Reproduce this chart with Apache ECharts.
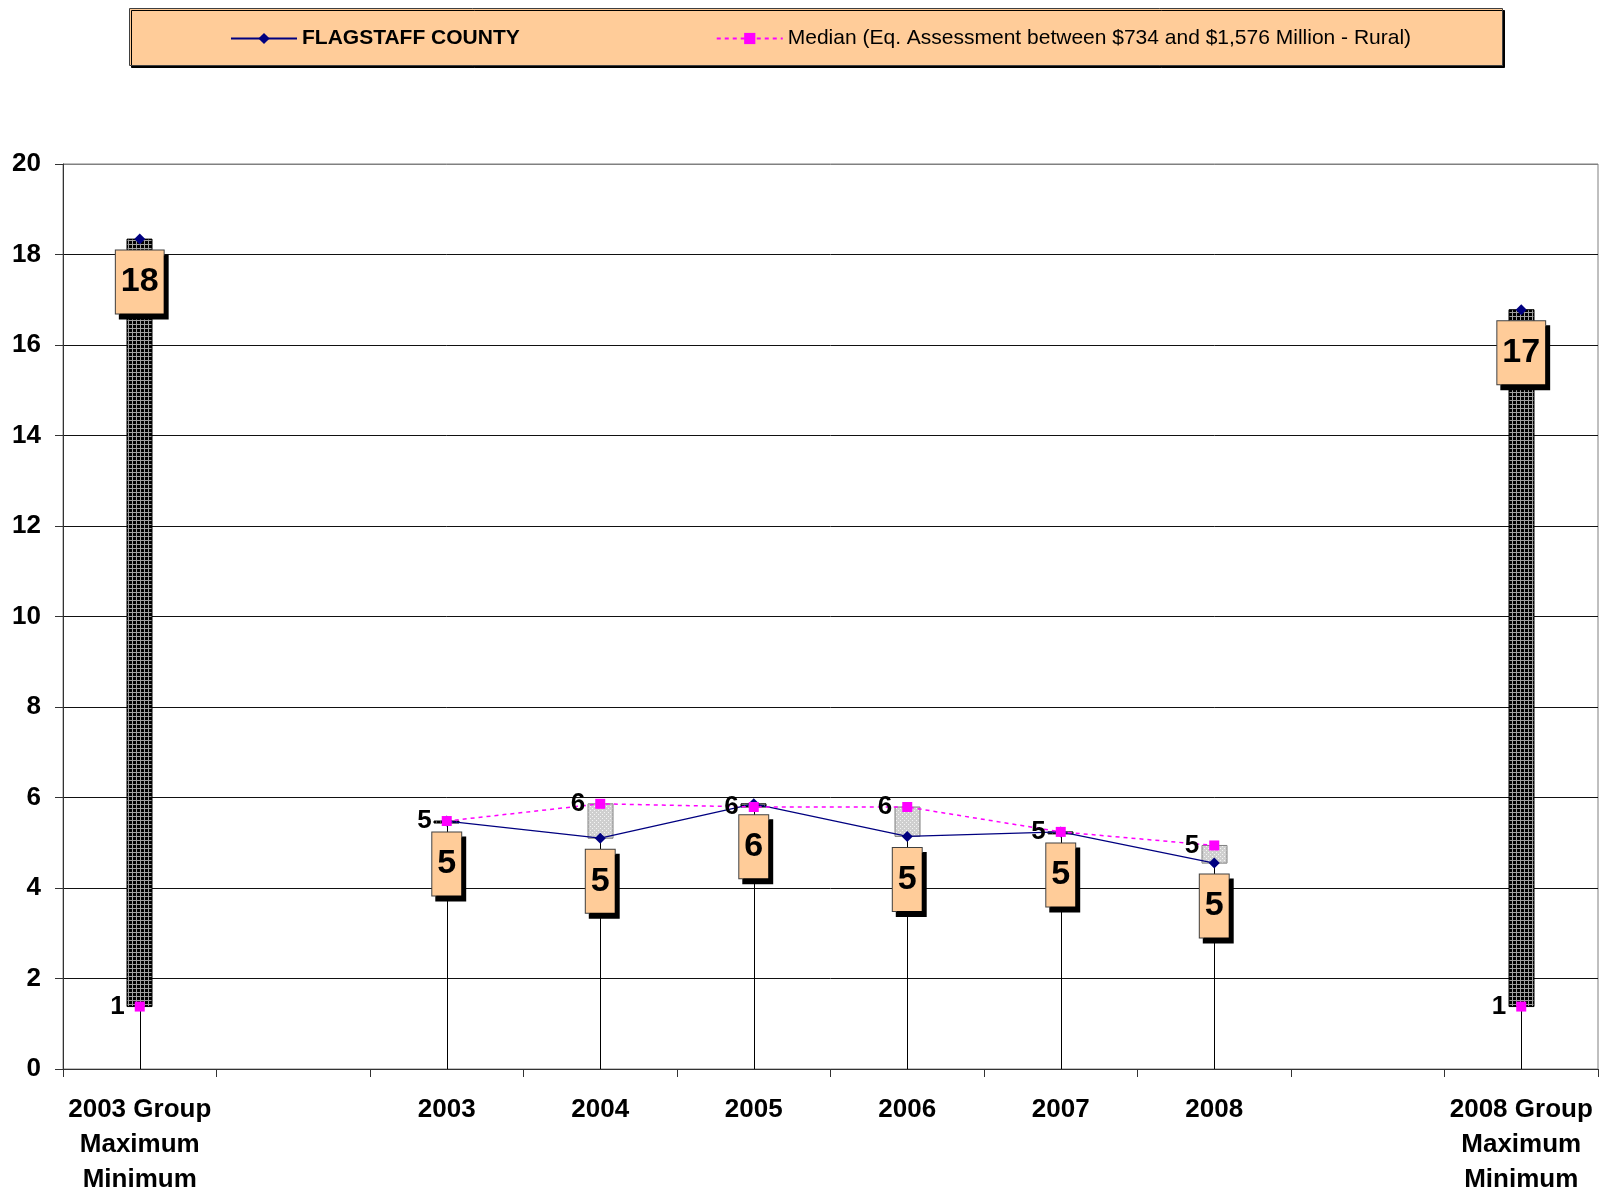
<!DOCTYPE html>
<html>
<head>
<meta charset="utf-8">
<title>FLAGSTAFF COUNTY</title>
<script src="https://cdn.jsdelivr.net/npm/echarts@6/dist/echarts.min.js"></script>
<style>
  html, body { margin: 0; padding: 0; background: #fff; }
  #chart { width: 1604px; height: 1196px; }
</style>
</head>
<body>
<div id="chart"></div>
<script>
// 数据
var categories = ['2003 Group\nMaximum\nMinimum', '', '2003', '2004', '2005', '2006', '2007', '2008', '', '2008 Group\nMaximum\nMinimum'];
var countyValues = [18.34, null, 5.48, 5.10, 5.86, 5.14, 5.24, 4.55, null, 16.78];
var medianValues = [1.38, null, 5.48, 5.86, 5.79, 5.79, 5.24, 4.94, null, 1.38];
var yTicks = { min: 0, max: 20, interval: 2 };

var FONT = 'Arial, "Liberation Sans", sans-serif';

// 填充图案
function makePattern(bg, line, kind) {
    var c = document.createElement('canvas');
    c.width = 4; c.height = 4;
    var ctx = c.getContext('2d');
    ctx.fillStyle = bg;
    ctx.fillRect(0, 0, 4, 4);
    ctx.fillStyle = line;
    if (kind === 'grid') {
        ctx.fillRect(0, 0, 4, 1);
        ctx.fillRect(0, 0, 1, 4);
    } else {
        ctx.fillRect(0, 0, 1, 1);
        ctx.fillRect(2, 2, 1, 1);
    }
    return { image: c, repeat: 'repeat' };
}
var darkPattern = makePattern('#000000', '#a0a0a0', 'grid');
var lightPattern = makePattern('#cfcfcf', '#f4f4f4', 'dots');

var barData = [];
var dropData = [];
for (var i = 0; i < categories.length; i++) {
    if (countyValues[i] != null && medianValues[i] != null) {
        barData.push([i, countyValues[i], medianValues[i]]);
        dropData.push([i, Math.max(countyValues[i], medianValues[i])]);
    }
}

var chart = echarts.init(document.getElementById('chart'));

var option = {
    backgroundColor: '#ffffff',
    animation: false,
    textStyle: { fontFamily: FONT },
    graphic: [{
        type: 'rect',
        left: 129, top: 8,
        shape: { width: 1373, height: 57 },
        style: {
            fill: '#FFCC99', stroke: '#404040', lineWidth: 1,
            shadowColor: '#000', shadowOffsetX: 2, shadowOffsetY: 2, shadowBlur: 0
        },
        z: 0
    }],
    legend: {
        left: 225,
        top: 23,
        itemWidth: 66,
        itemHeight: 14,
        itemGap: 196,
        data: [
            { name: 'FLAGSTAFF COUNTY', textStyle: { fontWeight: 'bold' } },
            { name: 'Median (Eq. Assessment between $734 and $1,576 Million - Rural)' }
        ],
        textStyle: { fontFamily: FONT, fontSize: 21, color: '#000' },
        z: 5
    },
    grid: {
        left: 63, right: 6, top: 164, bottom: 127,
        containLabel: false, outerBoundsMode: 'none',
        show: true, borderColor: '#808080', borderWidth: 1
    },
    xAxis: {
        type: 'category',
        data: categories,
        boundaryGap: true,
        axisLine: { lineStyle: { color: '#333', width: 1 } },
        axisTick: { show: true, interval: 0, length: 8, inside: false, lineStyle: { color: '#333' } },
        axisLabel: {
            interval: 0, margin: 23, color: '#000', fontFamily: FONT,
            fontSize: 26, fontWeight: 'bold', lineHeight: 35
        },
        splitLine: { show: false }
    },
    yAxis: {
        type: 'value',
        min: yTicks.min, max: yTicks.max, interval: yTicks.interval,
        axisLine: { show: true, lineStyle: { color: '#333', width: 1 } },
        axisTick: { show: true, length: 8, lineStyle: { color: '#333' } },
        axisLabel: { margin: 22, color: '#000', fontFamily: FONT, fontSize: 26, fontWeight: 'bold' },
        splitLine: {
            show: true,
            lineStyle: { color: ['#333', '#111', '#111', '#111', '#111', '#111', '#111', '#111', '#111', '#111', '#808080'], width: 1 }
        }
    },
    series: [
        {
            // drop lines
            type: 'custom',
            z: 1,
            silent: true,
            encode: { x: 0, y: 1 },
            data: dropData,
            renderItem: function (params, api) {
                var p0 = api.coord([api.value(0), 0]);
                var p1 = api.coord([api.value(0), api.value(1)]);
                return {
                    type: 'line',
                    shape: { x1: Math.round(p0[0]) + 0.5, y1: p0[1], x2: Math.round(p0[0]) + 0.5, y2: p1[1] },
                    style: { stroke: '#000', lineWidth: 1 }
                };
            }
        },
        {
            // up / down bars
            type: 'custom',
            z: 2,
            silent: true,
            encode: { x: 0, y: [1, 2] },
            data: barData,
            renderItem: function (params, api) {
                var x = api.value(0), a = api.value(1), b = api.value(2);
                var p1 = api.coord([x, a]), p2 = api.coord([x, b]);
                var w = 25;
                var top = Math.min(p1[1], p2[1]);
                var h = Math.max(Math.abs(p1[1] - p2[1]), 2);
                var down = a >= b;
                return {
                    type: 'rect',
                    shape: { x: Math.round(p1[0] - w / 2), y: top, width: w, height: h },
                    style: { fill: down ? darkPattern : lightPattern, stroke: down ? '#000' : '#808080', lineWidth: 1 }
                };
            }
        },
        {
            name: 'FLAGSTAFF COUNTY',
            type: 'line',
            z: 3,
            data: countyValues,
            symbol: 'diamond',
            symbolSize: 11,
            showAllSymbol: true,
            itemStyle: { color: '#000080' },
            lineStyle: { color: '#000080', width: 1.3 },
            label: {
                show: true,
                position: 'bottom',
                distance: 6,
                formatter: function (p) { return Math.round(p.value); },
                fontFamily: FONT,
                fontSize: 34,
                fontWeight: 'bold',
                color: '#000',
                lineHeight: 35,
                backgroundColor: '#FFCC99',
                borderColor: '#404040',
                borderWidth: 1,
                padding: [14, 5, 14, 5],
                shadowColor: '#000',
                shadowOffsetX: 4,
                shadowOffsetY: 5,
                shadowBlur: 0
            }
        },
        {
            name: 'Median (Eq. Assessment between $734 and $1,576 Million - Rural)',
            type: 'line',
            z: 3,
            data: medianValues,
            symbol: 'rect',
            symbolSize: 10,
            showAllSymbol: true,
            itemStyle: { color: '#FF00FF' },
            lineStyle: { color: '#FF00FF', width: 1.5, type: [4, 4] },
            label: {
                show: true,
                position: 'left',
                distance: 10,
                formatter: function (p) { return Math.round(p.value); },
                fontFamily: FONT,
                fontSize: 26,
                fontWeight: 'bold',
                color: '#000'
            }
        }
    ]
};

chart.setOption(option);
window.onresize = chart.resize;
</script>
</body>
</html>
